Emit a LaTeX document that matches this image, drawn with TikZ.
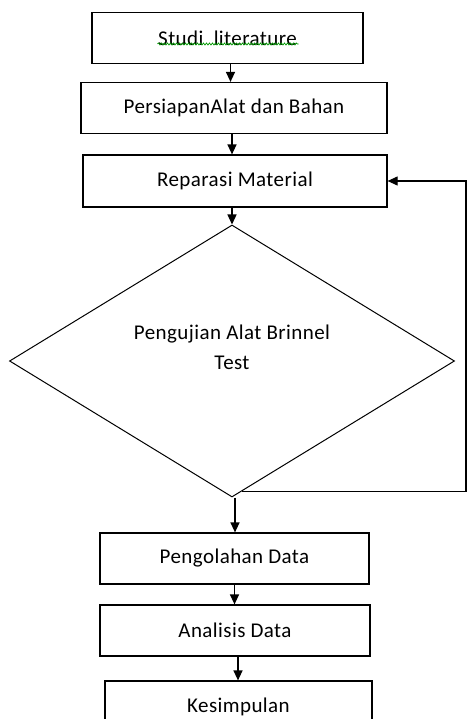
\documentclass[tikz,border=0pt]{standalone}
\usepackage{fontspec}
\setmainfont{Carlito}[LetterSpace=2]
\usetikzlibrary{shapes.geometric,arrows.meta,decorations.pathmorphing}

\begin{document}
\begin{tikzpicture}[
    x=1pt, y=-1pt,
    % Define styles
    stepbox/.style={rectangle, draw=black, line width=1.2pt, minimum height=51pt, inner sep=0pt, text centered, font=\fontsize{21}{30}\selectfont},
    decision/.style={diamond, draw=black, line width=1pt, minimum width=445pt, minimum height=272pt, inner sep=0pt, align=center, text depth=28pt, font=\fontsize{21}{30}\selectfont},
    arrow/.style={-{Triangle[width=9pt,length=10pt]}, line width=1.3pt, black},
    feedback/.style={-{Triangle[width=9pt,length=10pt]}, line width=1.1pt, black},
    spell/.style={green!60!black, line width=0.7pt, decorate, decoration={snake, amplitude=1pt, segment length=3pt}}
]
\clip (0,0) rectangle (468,719);

% Main steps
\node[stepbox, minimum width=271pt] (studi) at (227.5,38) {Studi~~literature};
\node[stepbox, minimum width=306pt] (alat) at (234,108) {PersiapanAlat dan Bahan};
\node[stepbox, minimum width=304pt, minimum height=52pt] (reparasi) at (235,181) {Reparasi Material};

% Test decision
\node[decision] (uji) at (232,361) {Pengujian Alat Brinnel\\Test};

% Data steps
\node[stepbox, minimum width=269pt] (olah) at (234.5,558.5) {Pengolahan Data};
\node[stepbox, minimum width=270pt] (analisis) at (235,630.5) {Analisis Data};
\node[stepbox, minimum width=267pt] (simpul) at (238.5,706.5) {Kesimpulan};

% Spell check mark
\draw[spell] ([xshift=-70pt,yshift=-6pt]studi.center) -- ([xshift=71pt,yshift=-6pt]studi.center);

% Connections
\draw[arrow] ([xshift=3pt]studi.south) -- ([xshift=3pt]studi.south |- alat.north);
\draw[arrow] ([xshift=-2pt]alat.south) -- ([xshift=-2pt]alat.south |- reparasi.north);
\draw[arrow] ([xshift=-3pt]reparasi.south) -- (uji.north);
\draw[arrow] ([xshift=3pt]uji.south) -- ([xshift=3pt]uji.south |- olah.north);
\draw[arrow] (olah) -- (olah.south |- analisis.north);
\draw[arrow] ([xshift=3pt]analisis.south) -- ([xshift=3pt]analisis.south |- simpul.north);

% Feedback loop
\coordinate (fbL) at ([xshift=10pt,yshift=6pt]uji.south);
\coordinate (fbR) at (fbL -| 466,0);
\draw[feedback] (fbL) -- (fbR) |- (reparasi.east);

\end{tikzpicture}
\end{document}
